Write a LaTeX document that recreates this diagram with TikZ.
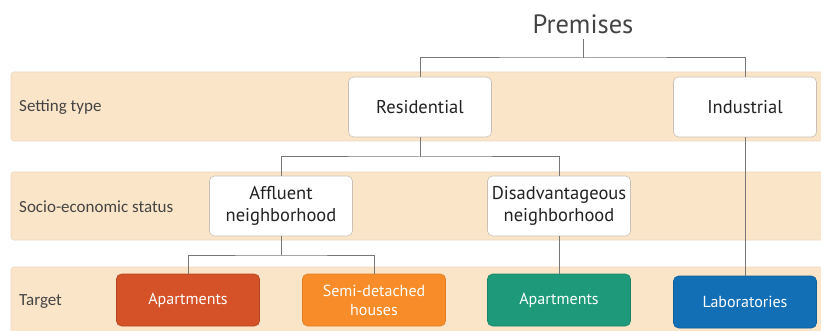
\documentclass[tikz,border=0pt]{standalone}
\usepackage{fontspec}
\setmainfont{PT Sans}
\newfontfamily\bandfont{Carlito}
\begin{document}
\begin{tikzpicture}[x=1pt,y=-1pt,
  bandlabel/.style={anchor=west,font=\bandfont\fontsize{17}{20}\selectfont,text=labeltext,inner sep=0pt},
  catbox/.style={draw=boxedge,fill=white,rounded corners=5pt,minimum width=143pt,minimum height=60pt,
    align=center,font=\fontsize{18.5}{22}\selectfont,text=boxtext,line width=0.6pt,inner sep=2pt},
  targetbox/.style={rounded corners=5pt,minimum width=143pt,minimum height=52pt,
    align=center,font=\fontsize{16}{19}\selectfont,text=white,line width=0.6pt,inner sep=2pt},
  link/.style={draw=linkgray,line width=1pt}]
\definecolor{bandfill}{HTML}{FBE5C8}
\definecolor{bandedge}{HTML}{EAD9C4}
\definecolor{labeltext}{HTML}{444444}
\definecolor{boxedge}{HTML}{C8C0B6}
\definecolor{boxtext}{HTML}{222222}
\definecolor{linkgray}{HTML}{777777}
\definecolor{redfill}{HTML}{D55127}
\definecolor{orangefill}{HTML}{F78C28}
\definecolor{greenfill}{HTML}{1E9A7A}
\definecolor{bluefill}{HTML}{126FB5}
\useasboundingbox (0,0) rectangle (821,331);

% horizontal bands
\fill[bandfill,draw=bandedge,line width=0.6pt,rounded corners=3pt] (11,72) rectangle (830,141);
\fill[bandfill,draw=bandedge,line width=0.6pt,rounded corners=3pt] (11,172) rectangle (830,240);
\fill[bandfill,draw=bandedge,line width=0.6pt,rounded corners=3pt] (11,267) rectangle (830,340);

\node[bandlabel] (l1) at (19,107) {Setting type};
\node[bandlabel] (l2) at (19,207) {Socio-economic status};
\node[bandlabel] (l3) at (19,302) {Target};

% root
\node[font=\fontsize{26.5}{30}\selectfont,text=labeltext,inner sep=0pt] (root) at (583,24) {Premises};

% setting type
\node[catbox] (res) at (420,107) {Residential};
\node[catbox] (ind) at (745,107) {Industrial};

% socio-economic status
\node[catbox] (aff) at (281,206) {Affluent\\neighborhood};
\node[catbox] (dis) at (559,206) {Disadvantageous\\neighborhood};

% targets
\node[targetbox,fill=redfill,draw=redfill!85!black] (apa) at (188,300) {Apartments};
\node[targetbox,fill=orangefill,draw=orangefill!90!black] (semi) at (374,300) {Semi-detached\\houses};
\node[targetbox,fill=greenfill,draw=greenfill!85!black] (apd) at (559,300) {Apartments};
\node[targetbox,fill=bluefill,draw=bluefill!85!black] (lab) at (745,302) {Laboratories};

% connectors
\coordinate (j1) at (583,58);
\draw[link] (root.south) ++(0,5) -- (j1);
\draw[link] (res.north) |- (j1) -| (ind.north);
\coordinate (j2) at (420,157);
\draw[link] (res.south) -- (j2);
\draw[link] (aff.north) |- (j2) -| (dis.north);
\coordinate (j3) at (281,255);
\draw[link] (aff.south) -- (j3);
\draw[link] (apa.north) |- (j3) -| (semi.north);
\draw[link] (dis.south) -- (apd.north);
\draw[link] (ind.south) -- (lab.north);
\end{tikzpicture}
\end{document}
